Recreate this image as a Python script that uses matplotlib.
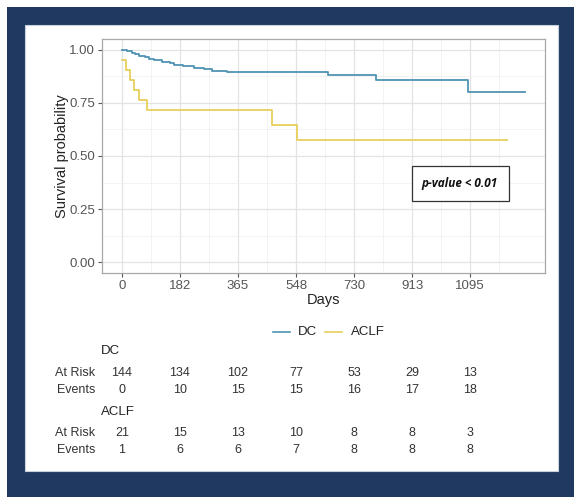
import matplotlib
matplotlib.use("Agg")
import matplotlib.pyplot as plt
from matplotlib.patches import Rectangle
from matplotlib.lines import Line2D
import matplotlib.transforms as mtrans

plt.rcParams['font.family'] = ['Liberation Sans', 'DejaVu Sans']

# ---------------- data ----------------
dc_times = [0, 15, 32, 42, 55, 72, 85, 100, 125, 150, 165, 193, 225, 257, 283, 330, 648, 800, 1089, 1268]
dc_surv = [1.0, 0.993, 0.986, 0.979, 0.972, 0.965, 0.958, 0.951, 0.944, 0.937, 0.930, 0.923, 0.914, 0.909, 0.901, 0.893, 0.879, 0.859, 0.800, 0.800]

aclf_times = [0, 12, 26, 37, 52, 79, 471, 550, 1211]
aclf_surv = [0.952, 0.905, 0.857, 0.810, 0.762, 0.714, 0.648, 0.577, 0.577]

x_ticks = [0, 182, 365, 548, 730, 913, 1095]
y_ticks = [0.00, 0.25, 0.50, 0.75, 1.00]
y_tick_labels = ["0.00", "0.25", "0.50", "0.75", "1.00"]

groups = ["DC", "ACLF"]
dc_at_risk = [144, 134, 102, 77, 53, 29, 13]
dc_events = [0, 10, 15, 15, 16, 17, 18]
aclf_at_risk = [21, 15, 13, 10, 8, 8, 3]
aclf_events = [1, 6, 6, 7, 8, 8, 8]

p_text = "p-value < 0.01"

# ---------------- styling ----------------
W, H = 574, 497
DC_COL = "#4f93b3"
ACLF_COL = "#e8cf5c"
NAVY = "#1f3961"

def fx(x):
    return x / W

def fy(y):
    return 1 - y / H

fig = plt.figure(figsize=(W / 100, H / 100), dpi=100, facecolor="white")

# frame (background)
fig.patches.append(Rectangle((fx(7), 0), 1 - fx(7), fy(7), transform=fig.transFigure,
                             facecolor=NAVY, edgecolor="none", zorder=0))
fig.patches.append(Rectangle((fx(25), fy(471)), fx(558) - fx(25), fy(25) - fy(471),
                             transform=fig.transFigure, facecolor="white",
                             edgecolor="#c8d0da", linewidth=0.8, zorder=0))

ax = fig.add_axes([fx(102), fy(273), fx(545) - fx(102), fy(39) - fy(273)])
ax.set_zorder(5)
ax.set_facecolor("white")

ax.step(dc_times, dc_surv, where="post", color=DC_COL, lw=1.3, zorder=3)
ax.step(aclf_times, aclf_surv, where="post", color=ACLF_COL, lw=1.3, zorder=3)

ax.set_xlim(-63, 1331)
ax.set_ylim(-0.05, 1.05)
ax.set_xticks(x_ticks)
ax.set_xticklabels([str(t) for t in x_ticks])
ax.set_yticks(y_ticks)
ax.set_yticklabels(y_tick_labels)
minor_x = [(x_ticks[i] + x_ticks[i + 1]) / 2 for i in range(len(x_ticks) - 1)] + [1095 + 91.25]
ax.set_xticks(minor_x, minor=True)
ax.set_yticks([0.125, 0.375, 0.625, 0.875], minor=True)
ax.grid(True, which="major", color="#e3e3e3", lw=0.9, zorder=0)
ax.grid(True, which="minor", color="#f1f1f1", lw=0.6, zorder=0)
ax.set_axisbelow(True)
ax.tick_params(which="minor", length=0)
ax.tick_params(which="major", length=3, width=0.8, color="#555555",
               labelsize=9.5, labelcolor="#555555", pad=2)
for s in ax.spines.values():
    s.set_color("#a8a8a8")
    s.set_linewidth(0.9)

ax.set_xlabel("Days", fontsize=10.5, color="#222222", labelpad=1)
ax.set_ylabel("Survival probability", fontsize=10.5, color="#222222", labelpad=0)

# p-value box
ax.add_patch(Rectangle((fx(412), fy(200.5)), fx(509) - fx(412), fy(166) - fy(200.5),
                       transform=fig.transFigure, facecolor="white",
                       edgecolor="#333333", linewidth=0.9, zorder=6, clip_on=False))
ax.text(fx(460), fy(184), p_text, transform=fig.transFigure, fontsize=8.5,
        fontweight="bold", fontstyle="italic", ha="center", va="center",
        color="#111111", family=["Open Sans", "DejaVu Sans"], zorder=7)

# legend
ly = fy(332)
fig.add_artist(Line2D([fx(273), fx(290)], [ly, ly], color=DC_COL, lw=1.2, transform=fig.transFigure))
fig.text(fx(298), ly, groups[0], fontsize=9.5, va="center", ha="left", color="#222222")
fig.add_artist(Line2D([fx(325), fx(342)], [ly, ly], color=ACLF_COL, lw=1.2, transform=fig.transFigure))
fig.text(fx(351), ly, groups[1], fontsize=9.5, va="center", ha="left", color="#222222")

# risk table
blend = mtrans.blended_transform_factory(ax.transData, fig.transFigure)
rows = [
    (351, None, groups[0], None),
    (373, "At Risk", None, dc_at_risk),
    (390, "Events", None, dc_events),
    (412, None, groups[1], None),
    (433, "At Risk", None, aclf_at_risk),
    (450, "Events", None, aclf_events),
]
for ypix, lab, title, vals in rows:
    if title is not None:
        fig.text(fx(101), fy(ypix), title, fontsize=9.5, ha="left", va="center", color="#222222")
    if lab is not None:
        fig.text(fx(95), fy(ypix), lab, fontsize=9, ha="right", va="center", color="#333333")
    if vals is not None:
        for t, v in zip(x_ticks, vals):
            ax.text(t, fy(ypix), str(v), transform=blend, fontsize=9, ha="center",
                    va="center", color="#333333", clip_on=False)

fig.savefig("out.png", dpi=100, facecolor="white")
